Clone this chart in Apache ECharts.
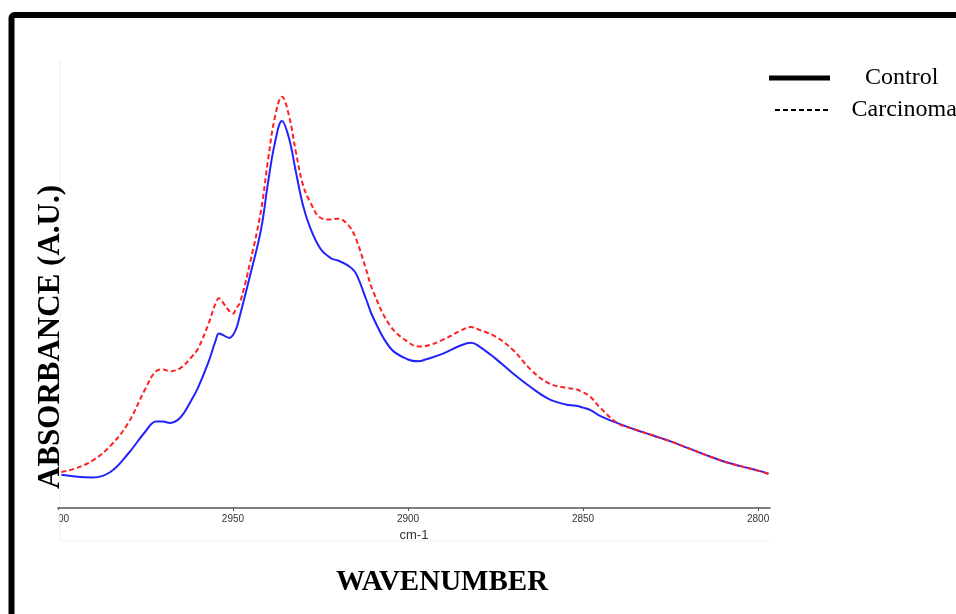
<!DOCTYPE html>
<html>
<head>
<meta charset="utf-8">
<script src="https://cdn.jsdelivr.net/npm/echarts@6/dist/echarts.min.js"></script>
<style>
html,body{margin:0;padding:0;background:#fff;}
#chart{width:956px;height:614px;}
</style>
</head>
<body>
<div id="chart"></div>
<script>
// Wavenumber (cm-1) sample positions
const wavenumbers = [2999, 2995, 2990, 2985, 2980, 2975, 2972, 2970, 2968, 2965, 2962, 2960, 2957, 2955, 2954, 2953, 2951, 2950, 2949, 2948, 2945, 2942, 2940, 2938, 2936, 2934, 2932, 2930, 2928, 2925, 2922, 2920, 2917, 2915, 2912, 2910, 2905, 2900, 2897, 2895, 2890, 2885, 2882, 2880, 2875, 2870, 2865, 2860, 2855, 2852, 2850, 2848, 2845, 2840, 2835, 2830, 2825, 2820, 2815, 2810, 2805, 2800, 2797];
// Absorbance (A.U.), Control (blue solid)
const control = [0.074, 0.070, 0.068, 0.080, 0.120, 0.170, 0.192, 0.192, 0.189, 0.201, 0.238, 0.267, 0.324, 0.371, 0.388, 0.385, 0.378, 0.384, 0.400, 0.428, 0.520, 0.618, 0.722, 0.812, 0.860, 0.822, 0.746, 0.673, 0.624, 0.576, 0.555, 0.550, 0.538, 0.523, 0.465, 0.424, 0.355, 0.330, 0.326, 0.330, 0.343, 0.361, 0.367, 0.361, 0.332, 0.299, 0.269, 0.243, 0.230, 0.227, 0.223, 0.218, 0.204, 0.188, 0.174, 0.161, 0.148, 0.133, 0.118, 0.104, 0.093, 0.083, 0.076];
// Absorbance (A.U.), Carcinoma (red dashed)
const carcinoma = [0.080, 0.088, 0.106, 0.138, 0.188, 0.265, 0.304, 0.308, 0.304, 0.311, 0.334, 0.354, 0.409, 0.454, 0.466, 0.458, 0.437, 0.432, 0.445, 0.456, 0.549, 0.660, 0.772, 0.869, 0.914, 0.872, 0.790, 0.718, 0.681, 0.645, 0.641, 0.643, 0.628, 0.601, 0.531, 0.482, 0.404, 0.369, 0.359, 0.360, 0.374, 0.394, 0.402, 0.397, 0.381, 0.351, 0.308, 0.278, 0.267, 0.264, 0.257, 0.248, 0.222, 0.188, 0.174, 0.161, 0.148, 0.133, 0.118, 0.104, 0.093, 0.083, 0.076];
// Axis tick labels
const tickValues = [3000, 2950, 2900, 2850, 2800];
const seriesNames = ['Control', 'Carcinoma'];

const chart = echarts.init(document.getElementById('chart'), null, {renderer: 'canvas'});
const pair = arr => wavenumbers.map((w, i) => [w, arr[i]]);
const dashIcon = 'path://M0 0h5v2h-5zM8 0h5v2h-5zM16 0h5v2h-5zM24 0h5v2h-5zM32 0h5v2h-5zM40 0h5v2h-5zM48 0h5v2h-5z';

const option = {
  backgroundColor: '#fff',
  animation: false,
  grid: {left: 57.9, right: 186, top: 58, bottom: 106, containLabel: false},
  xAxis: {
    type: 'value', inverse: true, min: 2796.6, max: 3000,
    name: 'cm-1', nameLocation: 'middle', nameGap: 21,
    nameTextStyle: {fontSize: 13, color: '#333', fontFamily: '"Liberation Sans Narrow","Liberation Sans",sans-serif', verticalAlign: 'top'},
    axisLine: {show: true, lineStyle: {color: '#555', width: 1.5}},
    axisTick: {show: true, customValues: tickValues, length: 3, lineStyle: {color: '#555'}},
    axisLabel: {customValues: tickValues, formatter: v => String(v), fontSize: 10, color: '#333', margin: 6,
      fontFamily: '"Liberation Sans Narrow","Liberation Sans",sans-serif'},
    splitLine: {show: false}
  },
  yAxis: {type: 'value', min: 0, max: 1, show: false},
  legend: [
    {data: [{name: seriesNames[0], icon: 'rect', itemStyle: {color: '#000', borderWidth: 0}}],
     left: 769, top: 66, padding: 0, itemWidth: 61, itemHeight: 5,
     textStyle: {fontFamily: '"Liberation Serif","Times New Roman",serif', fontSize: 24, color: '#000', padding: [0, 0, 0, 30]}},
    {data: [{name: seriesNames[1], icon: dashIcon, itemStyle: {color: '#000', borderWidth: 0}}],
     left: 775, top: 98, padding: 0, itemWidth: 56, itemHeight: 2,
     textStyle: {fontFamily: '"Liberation Serif","Times New Roman",serif', fontSize: 24, color: '#000', padding: [0, 0, 0, 17]}}
  ],
  series: [
    {name: seriesNames[0], type: 'line', data: pair(control), symbol: 'none', smooth: 0.4,
     lineStyle: {color: '#2222ff', width: 2}, itemStyle: {color: '#2222ff'}, z: 2},
    {name: seriesNames[1], type: 'line', data: pair(carcinoma), symbol: 'none', smooth: 0.4,
     lineStyle: {color: '#ff2020', width: 2, type: [5, 3]}, itemStyle: {color: '#ff2020'}, z: 3}
  ],
  graphic: [
    {type: 'line', shape: {x1: 60, y1: 60, x2: 60, y2: 541}, style: {stroke: '#efefef', lineWidth: 1}, z: 0, silent: true},
    {type: 'line', shape: {x1: 60, y1: 541, x2: 770, y2: 541}, style: {stroke: '#efefef', lineWidth: 1}, z: 0, silent: true},
    {type: 'rect', shape: {x: 30, y: 510, width: 29.5, height: 16}, style: {fill: '#fff'}, z: 50, silent: true},
    {type: 'text', x: 51, y: 337, rotation: Math.PI / 2, z: 60,
     style: {text: 'ABSORBANCE (A.U.)', font: 'bold 31px "Liberation Serif","Times New Roman",serif', fill: '#000', align: 'center', verticalAlign: 'middle'}},
    {type: 'text', x: 442, y: 583, z: 60,
     style: {text: 'WAVENUMBER', font: 'bold 29px "Liberation Serif","Times New Roman",serif', fill: '#000', align: 'center', verticalAlign: 'middle'}},
    {type: 'rect', shape: {x: 11.5, y: 15, width: 1100, height: 800, r: 3}, style: {fill: 'none', stroke: '#000', lineWidth: 6}, z: 100, silent: true}
  ]
};
chart.setOption(option);
</script>
</body>
</html>
